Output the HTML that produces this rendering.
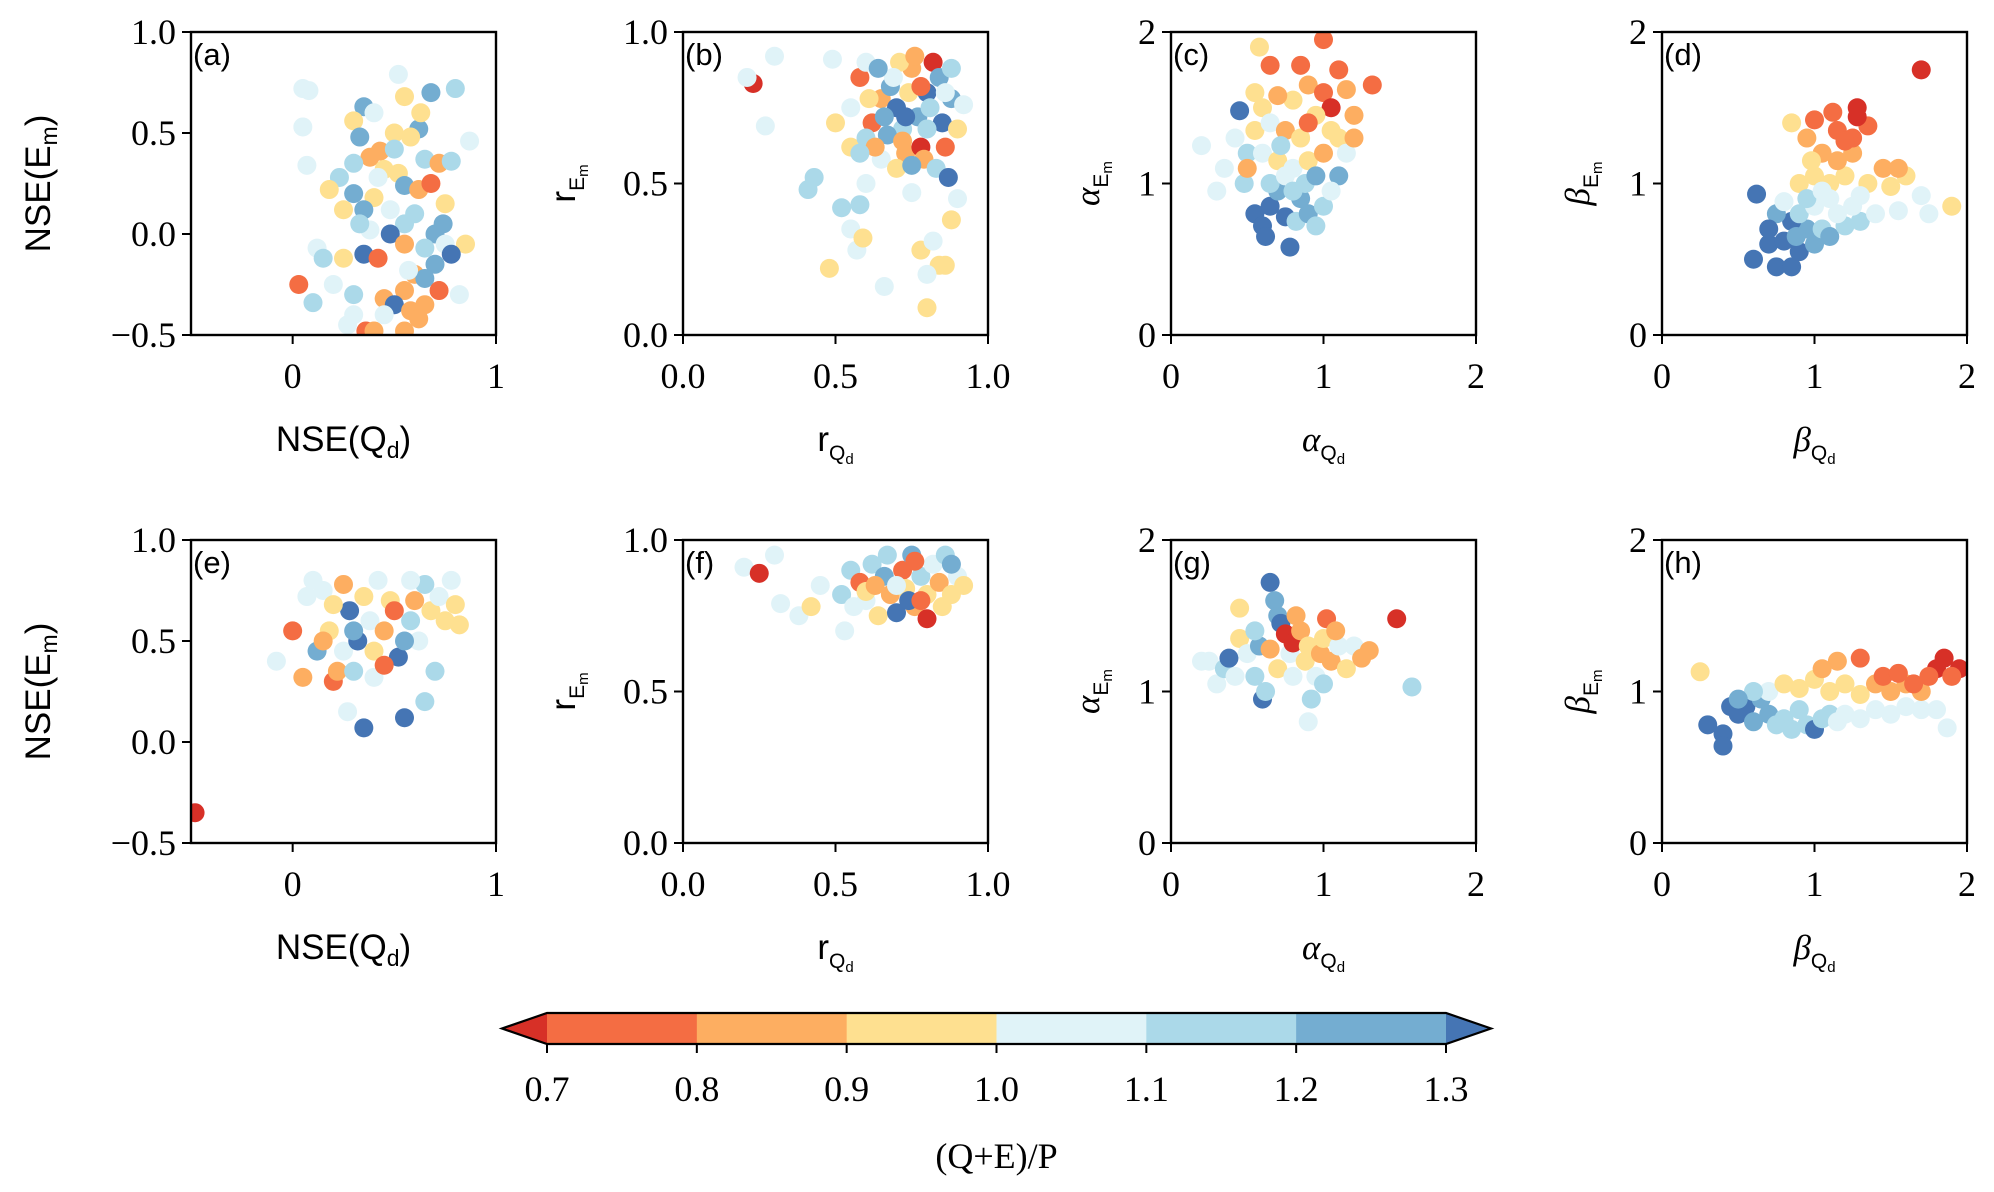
<!DOCTYPE html>
<html><head><meta charset="utf-8"><style>
body{margin:0;background:#fff}
svg{display:block}
.tk{font-family:"Liberation Serif",serif;font-size:36px;fill:#000}
.al{font-family:"Liberation Sans",sans-serif;font-size:35px;fill:#000}
.pl{font-family:"Liberation Sans",sans-serif;font-size:31px;fill:#000}
</style></head><body>
<svg id="fig" width="1994" height="1192" viewBox="0 0 1994 1192"></svg>
<script>
// panel (a)
const aX=[0.05,0.08,0.05,0.07,0.03,0.1,0.52,0.68,0.8,0.55,0.35,0.4,0.3,0.62,0.58,0.5,0.87,0.33,0.43,0.38,0.65,0.72,0.78,0.3,0.45,0.52,0.23,0.18,0.3,0.4,0.55,0.62,0.75,0.48,0.35,0.25,0.55,0.38,0.48,0.7,0.75,0.85,0.12,0.15,0.25,0.35,0.42,0.55,0.65,0.7,0.78,0.6,0.65,0.3,0.45,0.55,0.5,0.72,0.82,0.58,0.65,0.62,0.27,0.36,0.4,0.55,0.2,0.3,0.45,0.6,0.68,0.5,0.42,0.33,0.74,0.57,0.63];
const aY=[0.72,0.71,0.53,0.34,-0.25,-0.34,0.79,0.7,0.72,0.68,0.63,0.6,0.56,0.52,0.48,0.5,0.46,0.48,0.41,0.38,0.37,0.35,0.36,0.35,0.32,0.3,0.28,0.22,0.2,0.18,0.24,0.22,0.15,0.12,0.12,0.12,0.05,0.02,0.0,0.0,-0.05,-0.05,-0.07,-0.12,-0.12,-0.1,-0.12,-0.05,-0.07,-0.15,-0.1,-0.2,-0.22,-0.3,-0.32,-0.28,-0.35,-0.28,-0.3,-0.38,-0.35,-0.42,-0.45,-0.48,-0.48,-0.48,-0.25,-0.4,-0.4,0.1,0.25,0.42,0.28,0.05,0.05,-0.18,0.6];
const aC=[1.05,1.05,1.05,1.05,0.75,1.15,1.05,1.25,1.15,0.95,1.25,1.05,0.95,1.25,0.95,0.95,1.05,1.25,0.85,0.85,1.15,0.85,1.15,1.15,0.95,0.95,1.15,0.95,1.25,0.95,1.25,0.85,0.95,1.05,1.25,0.95,1.15,1.05,1.35,1.25,1.05,0.95,1.05,1.15,0.95,1.35,0.75,0.85,1.15,1.25,1.35,0.85,1.25,1.15,0.85,0.85,1.35,0.75,1.05,0.85,0.85,0.85,1.05,0.75,0.85,0.85,1.05,1.05,1.05,1.15,0.75,1.15,1.05,1.15,1.25,1.05,0.95];
// panel (b)
const bX=[0.23,0.3,0.27,0.21,0.49,0.43,0.41,0.52,0.58,0.6,0.55,0.57,0.48,0.66,0.8,0.59,0.78,0.82,0.84,0.86,0.8,0.9,0.88,0.75,0.5,0.55,0.58,0.6,0.55,0.62,0.65,0.68,0.7,0.72,0.73,0.75,0.77,0.78,0.8,0.82,0.84,0.85,0.86,0.88,0.9,0.92,0.6,0.65,0.7,0.67,0.74,0.79,0.83,0.87,0.71,0.76,0.81,0.63,0.69,0.58,0.88,0.64,0.73,0.78,0.66,0.72,0.8,0.86,0.61,0.75];
const bY=[0.83,0.92,0.69,0.85,0.91,0.52,0.48,0.42,0.43,0.5,0.35,0.28,0.22,0.16,0.09,0.32,0.28,0.31,0.23,0.23,0.2,0.45,0.38,0.47,0.7,0.75,0.85,0.9,0.62,0.7,0.78,0.82,0.75,0.68,0.6,0.88,0.72,0.62,0.8,0.9,0.85,0.7,0.62,0.78,0.68,0.76,0.65,0.58,0.55,0.66,0.8,0.58,0.55,0.52,0.9,0.92,0.75,0.62,0.85,0.6,0.88,0.88,0.72,0.82,0.72,0.64,0.68,0.8,0.78,0.56];
const bC=[0.65,1.05,1.05,1.05,1.05,1.15,1.15,1.15,1.15,1.05,1.05,1.05,0.95,1.05,0.95,0.95,0.95,1.05,0.95,0.95,1.05,1.05,0.95,1.05,0.95,1.05,0.75,1.05,0.95,0.75,0.85,1.25,1.35,1.15,0.85,0.85,1.25,0.65,1.35,0.65,1.25,1.35,0.75,1.25,0.95,1.05,1.15,1.05,0.95,1.25,0.95,0.85,1.15,1.35,0.95,0.85,1.15,0.85,1.05,1.15,1.15,1.25,1.35,0.75,1.25,0.85,1.15,1.05,0.95,1.25];
// panel (c)
const cX=[0.2,0.3,0.35,0.45,0.42,0.5,0.48,0.55,0.6,0.65,0.62,0.78,0.7,0.75,0.82,0.9,0.95,1.0,0.85,1.1,1.05,0.58,0.65,0.85,1.0,1.1,1.32,0.9,1.0,1.15,1.05,1.2,0.95,0.8,0.7,0.6,0.55,0.65,0.75,0.85,0.9,1.1,1.15,0.5,0.6,0.7,0.8,0.9,1.0,0.65,0.75,0.88,0.95,0.72,1.05,0.55,1.2,0.8];
const cY=[1.25,0.95,1.1,1.48,1.3,1.2,1.0,0.8,0.72,0.85,0.65,0.58,0.95,0.78,0.75,0.8,0.72,0.85,0.9,1.05,0.95,1.9,1.78,1.78,1.95,1.75,1.65,1.65,1.6,1.62,1.5,1.45,1.45,1.55,1.58,1.5,1.35,1.4,1.35,1.3,1.4,1.3,1.2,1.1,1.2,1.15,1.1,1.15,1.2,1.0,1.05,1.0,1.05,1.25,1.35,1.6,1.3,0.95];
const cC=[1.05,1.05,1.05,1.35,1.05,1.15,1.15,1.35,1.35,1.35,1.35,1.35,1.25,1.35,1.15,1.25,1.15,1.15,1.25,1.25,1.05,0.95,0.75,0.75,0.75,0.75,0.75,0.85,0.75,0.85,0.65,0.85,0.95,0.95,0.85,0.95,0.95,1.05,0.85,0.95,0.75,0.95,1.05,0.85,1.05,0.95,1.05,0.95,0.85,1.15,1.05,1.15,1.25,1.15,0.95,0.95,0.85,1.15];
// panel (d)
const dX=[0.6,0.62,0.75,0.85,0.7,0.8,0.9,0.95,0.85,0.75,1.0,1.05,1.1,1.2,1.3,0.9,0.8,1.0,1.15,1.25,1.4,1.55,1.75,1.7,1.9,0.9,1.0,1.1,1.2,1.35,1.5,1.6,1.3,1.05,1.15,1.25,1.45,1.55,0.85,0.95,1.0,1.15,1.25,1.35,1.12,1.28,1.28,1.7,1.2,0.98,0.95,1.1,0.7,0.88,1.05];
const dY=[0.5,0.93,0.45,0.45,0.6,0.62,0.55,0.7,0.75,0.8,0.6,0.7,0.65,0.72,0.75,0.8,0.88,0.85,0.8,0.85,0.8,0.82,0.8,0.92,0.85,1.0,1.05,1.0,1.05,1.0,0.98,1.05,0.92,1.2,1.15,1.2,1.1,1.1,1.4,1.3,1.42,1.35,1.3,1.38,1.47,1.5,1.44,1.75,1.28,1.15,0.9,0.9,0.7,0.65,0.95];
const dC=[1.35,1.35,1.35,1.35,1.35,1.35,1.35,1.25,1.35,1.25,1.25,1.15,1.25,1.15,1.15,1.15,1.05,1.05,1.05,1.05,1.05,1.05,1.05,1.05,0.95,0.95,0.95,0.95,0.95,0.95,0.95,0.95,1.05,0.85,0.85,0.85,0.85,0.85,0.95,0.85,0.75,0.75,0.75,0.75,0.75,0.65,0.65,0.65,0.75,0.95,1.15,1.05,1.35,1.25,1.05];
// panel (e)
const eX=[-0.48,-0.08,0.0,0.05,0.07,0.1,0.15,0.12,0.18,0.2,0.22,0.25,0.27,0.3,0.32,0.28,0.25,0.35,0.38,0.4,0.35,0.4,0.45,0.48,0.5,0.52,0.55,0.58,0.6,0.62,0.65,0.68,0.7,0.72,0.75,0.78,0.8,0.82,0.65,0.45,0.3,0.2,0.42,0.55,0.15,0.58];
const eY=[-0.35,0.4,0.55,0.32,0.72,0.8,0.75,0.45,0.55,0.3,0.35,0.45,0.15,0.35,0.5,0.65,0.78,0.72,0.6,0.45,0.07,0.32,0.55,0.7,0.65,0.42,0.12,0.6,0.7,0.5,0.78,0.65,0.35,0.72,0.6,0.8,0.68,0.58,0.2,0.38,0.55,0.68,0.8,0.5,0.5,0.8];
const eC=[0.65,1.05,0.75,0.85,1.05,1.05,1.05,1.25,0.95,0.75,0.85,1.05,1.05,1.15,1.35,1.35,0.85,0.95,1.05,0.95,1.35,1.05,0.85,0.95,0.75,1.35,1.35,1.15,0.85,1.05,1.15,0.95,1.15,1.05,0.95,1.05,0.95,0.95,1.15,0.75,1.25,0.95,1.05,1.25,0.85,1.05];
// panel (f)
const fX=[0.2,0.25,0.3,0.32,0.38,0.42,0.45,0.52,0.55,0.53,0.58,0.6,0.62,0.64,0.66,0.68,0.7,0.72,0.73,0.75,0.76,0.78,0.8,0.8,0.82,0.84,0.86,0.88,0.9,0.92,0.6,0.67,0.74,0.7,0.78,0.85,0.56,0.63,0.88,0.76];
const fY=[0.91,0.89,0.95,0.79,0.75,0.78,0.85,0.82,0.9,0.7,0.86,0.8,0.92,0.75,0.88,0.82,0.76,0.9,0.84,0.95,0.78,0.88,0.74,0.82,0.92,0.86,0.95,0.82,0.88,0.85,0.83,0.95,0.8,0.85,0.8,0.78,0.78,0.85,0.92,0.93];
const fC=[1.05,0.65,1.05,1.05,1.05,0.95,1.05,1.15,1.15,1.05,0.75,1.05,1.15,0.95,1.25,0.85,1.35,0.75,0.95,1.25,0.85,1.15,0.65,0.95,1.05,0.85,1.15,0.95,1.05,0.95,0.95,1.15,1.35,1.05,0.75,0.95,1.05,0.85,1.25,0.75];
// panel (g)
const gX=[0.2,0.25,0.3,0.35,0.38,0.42,0.45,0.45,0.5,0.55,0.58,0.6,0.62,0.65,0.68,0.7,0.72,0.75,0.78,0.8,0.82,0.85,0.88,0.9,0.92,0.95,0.98,1.0,1.02,1.05,1.1,1.15,1.2,1.25,1.3,1.48,1.58,0.9,1.0,0.7,0.8,0.55,1.08,0.65];
const gY=[1.2,1.2,1.05,1.15,1.22,1.1,1.55,1.35,1.25,1.1,1.3,0.95,1.0,1.72,1.6,1.5,1.45,1.38,1.25,1.32,1.5,1.4,1.2,1.3,0.95,1.1,1.25,1.35,1.48,1.2,1.3,1.15,1.3,1.22,1.27,1.48,1.03,0.8,1.05,1.15,1.1,1.4,1.4,1.28];
const gC=[1.05,1.05,1.05,1.15,1.35,1.05,0.95,0.95,1.05,1.15,1.25,1.35,1.15,1.35,1.25,1.25,1.35,0.65,1.05,0.65,0.85,0.85,0.95,0.95,1.15,1.05,0.85,0.95,0.75,0.85,1.05,0.95,1.05,0.85,0.85,0.65,1.15,1.05,1.15,0.95,1.05,1.15,0.85,0.85];
// panel (h)
const hX=[0.25,0.3,0.4,0.4,0.45,0.5,0.55,0.6,0.65,0.7,0.75,0.8,0.85,0.9,0.95,1.0,1.05,1.1,1.15,1.2,1.3,1.4,1.5,1.6,1.7,1.8,1.87,0.7,0.8,0.9,1.0,1.1,1.2,1.3,1.4,1.5,1.6,1.7,1.05,1.15,1.3,1.45,1.55,1.65,1.8,1.85,1.95,1.75,1.9,0.6,0.5];
const hY=[1.13,0.78,0.72,0.64,0.9,0.85,0.9,0.8,0.95,0.85,0.78,0.82,0.75,0.88,0.78,0.75,0.82,0.85,0.8,0.85,0.82,0.88,0.85,0.9,0.88,0.88,0.76,1.0,1.05,1.02,1.08,1.0,1.05,0.98,1.05,1.0,1.05,1.0,1.15,1.2,1.22,1.1,1.12,1.05,1.15,1.22,1.15,1.1,1.1,1.0,0.95];
const hC=[0.95,1.35,1.35,1.35,1.35,1.35,1.35,1.25,1.25,1.25,1.15,1.15,1.15,1.15,1.15,1.35,1.15,1.15,1.05,1.05,1.05,1.05,1.05,1.05,1.05,1.05,1.05,1.05,0.95,0.95,0.95,0.95,0.95,0.95,0.85,0.85,0.85,0.85,0.85,0.85,0.75,0.75,0.75,0.75,0.65,0.65,0.65,0.75,0.75,1.15,1.25];
// colorbar
const cbBounds=[0.7,0.8,0.9,1.0,1.1,1.2,1.3];
const cbTickLabels=["0.7","0.8","0.9","1.0","1.1","1.2","1.3"];
const cbColors=["#f46d43","#fdae61","#fee090","#e0f3f8","#abd9e9","#74add1"];
const underColor="#d73027", overColor="#4575b4";

const NS="http://www.w3.org/2000/svg";
const svg=document.getElementById('fig');
function mk(tag,attrs,parent){const e=document.createElementNS(NS,tag);for(const k in attrs)e.setAttribute(k,attrs[k]);(parent||svg).appendChild(e);return e;}
function colorOf(v){if(v<cbBounds[0])return underColor;if(v>=cbBounds[cbBounds.length-1])return overColor;for(let i=0;i<cbColors.length;i++){if(v<cbBounds[i+1])return cbColors[i];}return overColor;}

const cols=[191,683,1171,1662], W=305;
const rows=[32,540], H=303;
const types=[
 {xl:[-0.5,1],yl:[-0.5,1],xt:[0,1],xtl:["0","1"],yt:[-0.5,0,0.5,1],ytl:["−0.5","0.0","0.5","1.0"],kind:"nse"},
 {xl:[0,1],yl:[0,1],xt:[0,0.5,1],xtl:["0.0","0.5","1.0"],yt:[0,0.5,1],ytl:["0.0","0.5","1.0"],sym:"r",kind:"sub"},
 {xl:[0,2],yl:[0,2],xt:[0,1,2],xtl:["0","1","2"],yt:[0,1,2],ytl:["0","1","2"],sym:"α",kind:"sub"},
 {xl:[0,2],yl:[0,2],xt:[0,1,2],xtl:["0","1","2"],yt:[0,1,2],ytl:["0","1","2"],sym:"β",kind:"sub"}
];
const ylabX=[38,563,1087,1577];
const panels=[
 {n:"a",X:aX,Y:aY,C:aC},{n:"b",X:bX,Y:bY,C:bC},{n:"c",X:cX,Y:cY,C:cC},{n:"d",X:dX,Y:dY,C:dC},
 {n:"e",X:eX,Y:eY,C:eC},{n:"f",X:fX,Y:fY,C:fC},{n:"g",X:gX,Y:gY,C:gC},{n:"h",X:hX,Y:hY,C:hC}
];
panels.forEach((p,i)=>{
 const ci=i%4, ri=Math.floor(i/4), t=types[ci];
 const x0=cols[ci], y0=rows[ri];
 const g=mk('g',{});
 
 
 const sx=v=>x0+(v-t.xl[0])/(t.xl[1]-t.xl[0])*W;
 const sy=v=>y0+H-(v-t.yl[0])/(t.yl[1]-t.yl[0])*H;
 const clip=mk('clipPath',{id:'clip'+p.n},g);
 mk('rect',{x:x0,y:y0,width:W,height:H},clip);
 const pts=mk('g',{'clip-path':'url(#clip'+p.n+')'},g);
 
 
 for(let k=0;k<p.X.length;k++){
  const c=mk('circle',{cx:sx(p.X[k]),cy:sy(p.Y[k]),r:9.5,fill:colorOf(p.C[k])},pts);
  
  
 }
 const fr=mk('rect',{x:x0,y:y0,width:W,height:H,fill:'none',stroke:'#000','stroke-width':2.4},g);
 
 
 t.xt.forEach((v,k)=>{
  mk('line',{x1:sx(v),x2:sx(v),y1:y0+H,y2:y0+H+9,stroke:'#000','stroke-width':2},g);
  const tx=mk('text',{x:sx(v),y:y0+H+53,'text-anchor':'middle',class:'tk'},g);
  tx.textContent=t.xtl[k];
  
  
 });
 t.yt.forEach((v,k)=>{
  mk('line',{x1:x0-9,x2:x0,y1:sy(v),y2:sy(v),stroke:'#000','stroke-width':2},g);
  const tx=mk('text',{x:x0-15,y:sy(v)+12,'text-anchor':'end',class:'tk'},g);
  tx.textContent=t.ytl[k];
  
  
 });
 const pl=mk('text',{x:x0+2,y:y0+33,class:'pl'},g);
 pl.textContent='('+p.n+')';
 
 
 const xlY=y0+H+116;
 const xl=mk('text',{x:x0+W/2,y:xlY,'text-anchor':'middle',class:'al'},g);
 
 
 const yl=mk('text',{x:0,y:0,'text-anchor':'middle',class:'al',transform:'translate('+(ylabX[ci]+12)+','+(y0+H/2)+') rotate(-90)'},g);
 
 
 if(t.kind==="nse"){
  xl.innerHTML='NSE(Q<tspan dy="7" font-size="23">d</tspan><tspan dy="-7">)</tspan>';
  yl.innerHTML='NSE(E<tspan dy="7" font-size="23">m</tspan><tspan dy="-7">)</tspan>';
 } else {
  const st=t.sym==="r"?'':' font-family="Liberation Serif" font-style="italic"';
  xl.innerHTML='<tspan'+st+'>'+t.sym+'</tspan><tspan dy="9" font-size="21">Q</tspan><tspan dy="4" font-size="15">d</tspan>';
  yl.innerHTML='<tspan'+st+'>'+t.sym+'</tspan><tspan dy="9" font-size="21">E</tspan><tspan dy="4" font-size="15">m</tspan>';
 }
});
// colorbar
const cbL=547, cbR=1446, cbT=1013, cbB=1044;
const cb=mk('g',{});


const cx=v=>cbL+(v-cbBounds[0])/(cbBounds[cbBounds.length-1]-cbBounds[0])*(cbR-cbL);
for(let i=0;i<cbColors.length;i++){
 const r=mk('rect',{x:cx(cbBounds[i]),y:cbT,width:cx(cbBounds[i+1])-cx(cbBounds[i])+0.5,height:cbB-cbT,fill:cbColors[i]},cb);
 
 
}
mk('polygon',{points:`${cbL},${cbT} ${cbL-45},${(cbT+cbB)/2} ${cbL},${cbB}`,fill:underColor},cb);
mk('polygon',{points:`${cbR},${cbT} ${cbR+45},${(cbT+cbB)/2} ${cbR},${cbB}`,fill:overColor},cb);
mk('polygon',{points:`${cbL},${cbT} ${cbR},${cbT} ${cbR+45},${(cbT+cbB)/2} ${cbR},${cbB} ${cbL},${cbB} ${cbL-45},${(cbT+cbB)/2}`,fill:'none',stroke:'#000','stroke-width':2.2},cb);
cbBounds.forEach((v,k)=>{
 mk('line',{x1:cx(v),x2:cx(v),y1:cbB,y2:cbB+9,stroke:'#000','stroke-width':2},cb);
 const tx=mk('text',{x:cx(v),y:1101,'text-anchor':'middle',class:'tk'},cb);
 tx.textContent=cbTickLabels[k];
 
 
});
const ct=mk('text',{x:(cbL+cbR)/2,y:1168,'text-anchor':'middle',class:'tk','font-size':'40'},cb);
ct.textContent='(Q+E)/P';


</script>
</body></html>
